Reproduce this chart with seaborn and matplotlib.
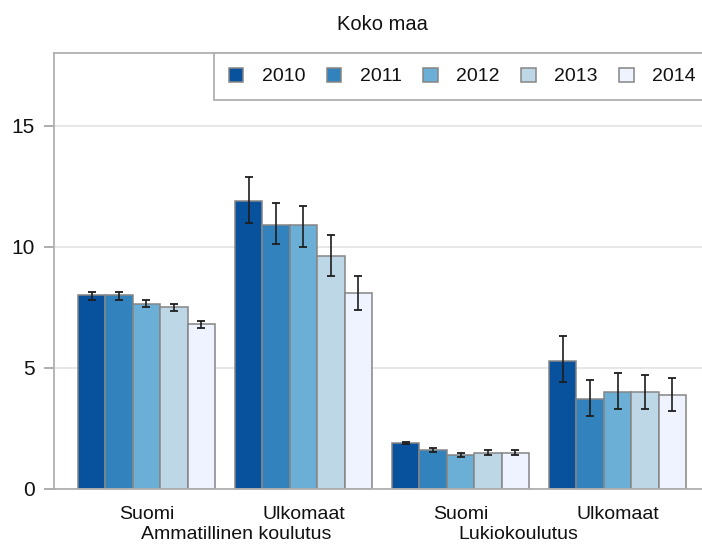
import matplotlib.pyplot as plt
import seaborn as sns
import pandas as pd
import numpy as np

# Categories and years
groups = ['Ammatillinen koulutus', 'Lukiokoulutus']
origins = ['Suomi', 'Ulkomaat', 'Suomi', 'Ulkomaat']
categories = ['Amm Suomi', 'Amm Ulkomaat', 'Luk Suomi', 'Luk Ulkomaat']
years = ['2010', '2011', '2012', '2013', '2014']

# Values per category (rows) and year (columns)
values = [
    [8.0, 8.0, 7.65, 7.5, 6.8],
    [11.9, 10.9, 10.9, 9.6, 8.1],
    [1.9, 1.6, 1.4, 1.5, 1.5],
    [5.3, 3.7, 4.0, 4.0, 3.9],
]
lower = [
    [7.82, 7.82, 7.51, 7.33, 6.63],
    [11.0, 10.1, 10.0, 8.8, 7.4],
    [1.85, 1.52, 1.32, 1.41, 1.41],
    [4.4, 3.0, 3.3, 3.3, 3.2],
]
upper = [
    [8.12, 8.12, 7.8, 7.63, 6.93],
    [12.9, 11.8, 11.7, 10.5, 8.8],
    [1.94, 1.71, 1.5, 1.6, 1.6],
    [6.3, 4.5, 4.8, 4.7, 4.6],
]

colors = ['#08519c', '#3182bd', '#6baed6', '#bdd7e7', '#eff3ff']

rows = []
for i, cat in enumerate(categories):
    for j, yr in enumerate(years):
        rows.append({'cat': cat, 'year': yr, 'value': values[i][j]})
df = pd.DataFrame(rows)

sns.set_style('white')
plt.rcParams['font.family'] = ['Liberation Sans', 'DejaVu Sans']
plt.rcParams.update({'text.color': '#111111', 'xtick.color': '#111111',
                     'ytick.color': '#111111'})

fig = plt.figure(figsize=(7.02, 5.45), dpi=100)
ax = fig.add_axes([54 / 702, 56 / 545, 656 / 702, 436 / 545])

sns.barplot(data=df, x='cat', y='value', hue='year', order=categories,
            hue_order=years, palette=colors, saturation=1, errorbar=None,
            width=0.873, edgecolor='#858585', linewidth=1.1, ax=ax)

# error bars at the bar centres
bar_sets = list(ax.containers)
for j, cont in enumerate(bar_sets):
    for i, bar in enumerate(cont.patches):
        xc = bar.get_x() + bar.get_width() / 2
        v = values[i][j]
        ax.errorbar(xc, v, yerr=[[v - lower[i][j]], [upper[i][j] - v]],
                    fmt='none', ecolor='#1e1e1e', elinewidth=1.2,
                    capsize=3, capthick=1.3, zorder=5)

ax.set_ylim(0, 18)
ax.set_xlim(-0.589, 3.589)
ax.set_yticks([0, 5, 10, 15])
ax.yaxis.grid(True, color='#e3e3e3', linewidth=1.2)
ax.set_axisbelow(True)

for side in ['left', 'bottom', 'top']:
    ax.spines[side].set_color('#b0b0b0')
    ax.spines[side].set_linewidth(1.3)
ax.spines['right'].set_visible(False)

ax.tick_params(axis='y', length=7, width=1.2, color='#a0a0a0', pad=7,
               labelsize=15, left=True, labelcolor='#111111')
ax.tick_params(axis='x', length=0, pad=12.5, labelsize=14, labelcolor='#111111')
ax.set_xticks(range(len(categories)))
ax.set_xticklabels(origins)
ax.set_xlabel('')
ax.set_ylabel('')

# group labels below the tick labels
trans = ax.get_xaxis_transform()
ax.text(0.57, -0.1055, groups[0], transform=trans, ha='center',
        va='center', fontsize=14, clip_on=False)
ax.text(2.37, -0.1055, groups[1], transform=trans, ha='center',
        va='center', fontsize=14, clip_on=False)

fig.text(382 / 702, 1 - 24 / 545, 'Koko maa', ha='center', va='center', fontsize=14.5)

handles, labels = ax.get_legend_handles_labels()
ax.legend(handles, labels, ncol=5, loc='upper left', bbox_to_anchor=(0.244, 1.0),
          borderaxespad=0, frameon=True, fancybox=False, edgecolor='#b0b0b0',
          fontsize=14, handlelength=0.75, handleheight=0.75, handletextpad=0.95,
          columnspacing=1.1, borderpad=0.75, framealpha=1)
ax.get_legend().get_frame().set_linewidth(1.3)

fig.savefig('out.png', dpi=100)
